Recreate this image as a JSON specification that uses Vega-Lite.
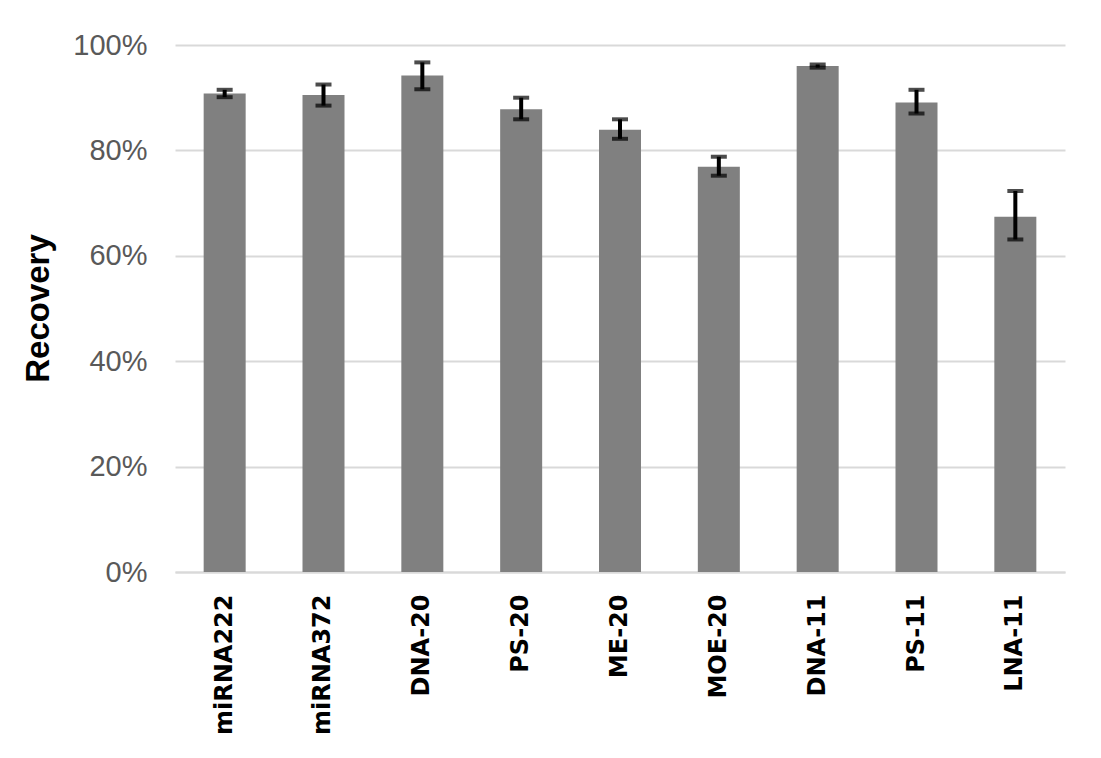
{
  "$schema": "https://vega.github.io/schema/vega-lite/v6.json",
  "width": 890,
  "height": 527,
  "autosize": {"type": "none"},
  "padding": {"left": 175, "top": 45, "right": 36, "bottom": 186},
  "background": "white",
  "config": {"view": {"stroke": null}},
  "data": {"values": [
    {"name": "miRNA222", "recovery": 0.908, "lo": 0.901, "hi": 0.915},
    {"name": "miRNA372", "recovery": 0.905, "lo": 0.885, "hi": 0.925},
    {"name": "DNA-20", "recovery": 0.942, "lo": 0.916, "hi": 0.967},
    {"name": "PS-20", "recovery": 0.878, "lo": 0.859, "hi": 0.900},
    {"name": "ME-20", "recovery": 0.839, "lo": 0.822, "hi": 0.859},
    {"name": "MOE-20", "recovery": 0.769, "lo": 0.752, "hi": 0.788},
    {"name": "DNA-11", "recovery": 0.960, "lo": 0.957, "hi": 0.963},
    {"name": "PS-11", "recovery": 0.891, "lo": 0.870, "hi": 0.915},
    {"name": "LNA-11", "recovery": 0.674, "lo": 0.631, "hi": 0.723}
  ]},
  "encoding": {
    "x": {
      "field": "name", "type": "nominal", "sort": null,
      "scale": {"paddingInner": 0.575, "paddingOuter": 0.29},
      "axis": {
        "title": null, "labelAngle": -90, "labelFont": "DejaVu Sans", "labelFontWeight": "bold",
        "labelFontSize": 24, "labelColor": "#000000", "labelPadding": 22, "ticks": false,
        "domainColor": "#d9d9d9", "domainWidth": 2, "labelBaseline": "middle", "labelAlign": "right"
      }
    }
  },
  "layer": [
    {
      "mark": {"type": "bar", "color": "#808080"},
      "encoding": {
        "y": {
          "field": "recovery", "type": "quantitative",
          "scale": {"domain": [0, 1]},
          "axis": {
            "title": "Recovery", "format": ".0%", "values": [0, 0.2, 0.4, 0.6, 0.8, 1],
            "domain": false, "ticks": false, "labelPadding": 28,
            "labelFont": "Liberation Sans", "labelFontSize": 29, "labelColor": "#595959",
            "gridColor": "#d9d9d9", "gridWidth": 2,
            "titleFont": "Liberation Sans", "titleFontSize": 33, "titleFontWeight": "bold",
            "titleColor": "#000000", "titleX": -137, "titleY": 263, "titleBaseline": "middle", "titleAngle": -90
          }
        }
      }
    },
    {
      "mark": {"type": "rule", "color": "#000000", "strokeWidth": 4},
      "encoding": {"y": {"field": "lo", "type": "quantitative"}, "y2": {"field": "hi"}}
    },
    {
      "mark": {"type": "tick", "color": "#000000", "size": 16, "thickness": 4},
      "encoding": {"y": {"field": "lo", "type": "quantitative"}}
    },
    {
      "mark": {"type": "tick", "color": "#000000", "size": 16, "thickness": 4},
      "encoding": {"y": {"field": "hi", "type": "quantitative"}}
    }
  ]
}
